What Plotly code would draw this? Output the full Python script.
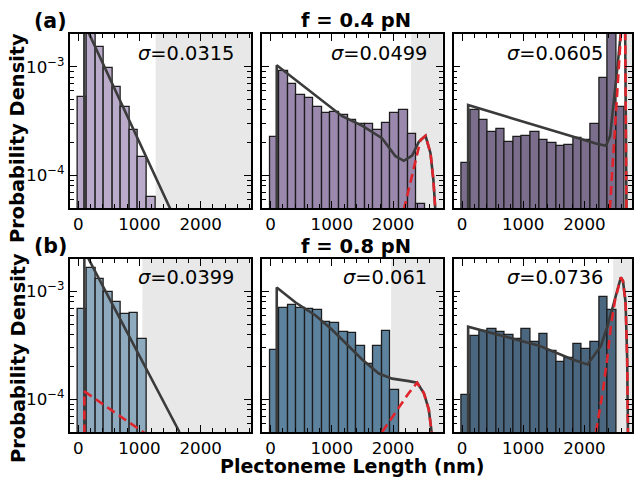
import math
import plotly.graph_objects as go

# ---------------- data ----------------
bin_centers = [70, 210, 350, 490, 630, 770, 910, 1050, 1190, 1330,
               1470, 1610, 1750, 1890, 2030, 2170, 2310, 2450, 2590]

dens_f04_s0315 = [5.3e-4, 2.4e-3, 1.53e-3, 9.7e-4, 6.5e-4, 4.3e-4, 2.6e-4, 1.48e-4, 6.3e-5]
dens_f04_s0499 = [2.26e-4, 9.1e-4, 6.9e-4, 5.5e-4, 5.1e-4, 4.3e-4, 3.76e-4, 3.84e-4, 3.58e-4,
                  3.22e-4, 2.96e-4, 2.96e-4, 2.64e-4, 3.06e-4, 3.76e-4, 4.03e-4, 2.39e-4, 5.4e-5]
dens_f04_s0605 = [1.31e-4, 3.98e-4, 3.22e-4, 2.48e-4, 2.66e-4, 2.03e-4, 2.23e-4, 2.29e-4, 2.48e-4,
                  2.10e-4, 1.99e-4, 1.87e-4, 1.9e-4, 2.2e-4, 2.12e-4, 2.96e-4, 7.9e-4, 2.6e-3, 4.25e-4]
dens_f08_s0399 = [6.86e-4, 1.64e-3, 1.30e-3, 1.0e-3, 8.0e-4, 6.25e-4, 6.38e-4, 3.66e-4]
dens_f08_s0610 = [2.85e-4, 7.0e-4, 7.46e-4, 7.1e-4, 6.85e-4, 6.71e-4, 5.2e-4, 5.15e-4, 4.25e-4,
                  4.12e-4, 3.15e-4, 2.11e-4, 3.15e-4, 4.31e-4, 1.23e-4]
dens_f08_s0736 = [1.09e-4, 3.87e-4, 4.31e-4, 4.46e-4, 4.25e-4, 3.96e-4, 3.61e-4, 4.46e-4, 3.43e-4,
                  4.07e-4, 2.79e-4, 2.23e-4, 2.42e-4, 3.29e-4, 2.93e-4, 3.44e-4, 8.99e-4, 6.8e-4]

# total fit (black) and end-loop component (red dashed)
fit_f04_s0315_x = [100, 100, 1505]
fit_f04_s0315_y = [1e-6, 2.5e-3, 4.9e-5]
end_f04_s0315_x = []
end_f04_s0315_y = []

fit_f04_s0499_x = [100, 100, 1170, 1500, 1820, 2040, 2176, 2312, 2421, 2531, 2612, 2660, 2700]
fit_f04_s0499_y = [1e-6, 1.03e-3, 3.5e-4, 2.85e-4, 2.2e-4, 1.5e-4, 1.36e-4, 1.52e-4,
                   2.03e-4, 2.31e-4, 1.6e-4, 9e-5, 4e-5]
end_f04_s0499_x = [2176, 2312, 2449, 2531, 2612, 2660, 2700]
end_f04_s0499_y = [4.8e-5, 1.04e-4, 2.11e-4, 2.31e-4, 1.6e-4, 9e-5, 4e-5]

fit_f04_s0605_x = [100, 100, 2187, 2351, 2420, 2480, 2540, 2596, 2630, 2666, 2687]
fit_f04_s0605_y = [1e-6, 4.43e-4, 1.96e-4, 1.87e-4, 2.3e-4, 4.5e-4, 1.0e-3,
                   2.1e-3, 4e-3, 2e-3, 4.5e-5]
end_f04_s0605_x = [2416, 2596, 2630, 2666, 2687]
end_f04_s0605_y = [4.9e-5, 2.0e-3, 4e-3, 2e-3, 4.5e-5]

fit_f08_s0399_x = [100, 100, 1654]
fit_f08_s0399_y = [1e-6, 2.38e-3, 5e-5]
end_f08_s0399_x = [100, 100, 1150]
end_f08_s0399_y = [1e-6, 1.19e-4, 4.6e-5]

fit_f08_s0610_x = [100, 100, 408, 735, 1000, 1496, 1768, 1986, 2258, 2394, 2503, 2584, 2640]
fit_f08_s0610_y = [1e-6, 1.09e-3, 7.9e-4, 6.0e-4, 4.45e-4, 2.35e-4, 1.74e-4, 1.56e-4, 1.48e-4,
                   1.43e-4, 1.15e-4, 8.1e-5, 4.5e-5]
end_f08_s0610_x = [1822, 2041, 2258, 2394, 2503, 2584, 2640]
end_f08_s0610_y = [5e-5, 7.5e-5, 1.15e-4, 1.43e-4, 1.15e-4, 8.1e-5, 4.5e-5]

fit_f08_s0736_x = [100, 100, 1262, 1806, 2051, 2269, 2378, 2460, 2503, 2596, 2630, 2672, 2698, 2712]
fit_f08_s0736_y = [1e-6, 4.73e-4, 3.15e-4, 2.35e-4, 2.11e-4, 3.13e-4, 4.8e-4, 7.2e-4,
                   8.5e-4, 1.35e-3, 1.25e-3, 8e-4, 2.5e-4, 4.5e-5]
end_f08_s0736_x = [2188, 2297, 2378, 2433, 2503, 2596, 2630, 2672, 2698, 2712]
end_f08_s0736_y = [5e-5, 1.15e-4, 2.52e-4, 4.8e-4, 8.5e-4, 1.35e-3, 1.25e-3, 8e-4, 2.5e-4, 4.5e-5]

sigma_labels = ["0.0315", "0.0499", "0.0605", "0.0399", "0.061", "0.0736"]
force_titles = ["f = 0.4 pN", "f = 0.8 pN"]
panel_tags = ["(a)", "(b)"]
shade_start = [1265, 2296, 2690, 1048, 1969, 2470]
x_tick_vals = [0, 1000, 2000]
y_tick_vals = [1e-4, 1e-3]
y_tick_text = ["10<sup>−4</sup>", "10<sup>−3</sup>"]
y_minor_vals = [5e-5, 6e-5, 7e-5, 8e-5, 9e-5, 2e-4, 3e-4, 4e-4, 5e-4, 6e-4, 7e-4, 8e-4, 9e-4, 2e-3]

# ---------------- styling / layout ----------------
W, H = 634, 477
FONT = "DejaVu Sans"
bar_colors = ["#b9abc9", "#9a88ad", "#7b6d8c", "#8eaabe", "#5d829d", "#4b677f"]
col_px = [(70, 252), (263, 444), (455, 634)]
row_px = [(34, 208), (259, 432)]
PX_PER_NM = 0.0614
X0 = -138

dens = [dens_f04_s0315, dens_f04_s0499, dens_f04_s0605,
        dens_f08_s0399, dens_f08_s0610, dens_f08_s0736]
fits = [(fit_f04_s0315_x, fit_f04_s0315_y), (fit_f04_s0499_x, fit_f04_s0499_y),
        (fit_f04_s0605_x, fit_f04_s0605_y), (fit_f08_s0399_x, fit_f08_s0399_y),
        (fit_f08_s0610_x, fit_f08_s0610_y), (fit_f08_s0736_x, fit_f08_s0736_y)]
ends = [(end_f04_s0315_x, end_f04_s0315_y), (end_f04_s0499_x, end_f04_s0499_y),
        (end_f04_s0605_x, end_f04_s0605_y), (end_f08_s0399_x, end_f08_s0399_y),
        (end_f08_s0610_x, end_f08_s0610_y), (end_f08_s0736_x, end_f08_s0736_y)]

fig = go.Figure()
shapes = []
annotations = []
layout_axes = {}

for i in range(6):
    row, col = divmod(i, 3)
    suffix = "" if i == 0 else str(i + 1)
    xa, ya = "x" + suffix, "y" + suffix
    n = len(dens[i])
    fig.add_trace(go.Bar(
        x=bin_centers[:n], y=dens[i], width=140,
        marker=dict(color=bar_colors[i], line=dict(color="#1c1c1c", width=1.3)),
        xaxis=xa, yaxis=ya, showlegend=False, hoverinfo="skip"))
    fx, fy = fits[i]
    fig.add_trace(go.Scatter(x=fx, y=fy, mode="lines",
                             line=dict(color="#3b3b3b", width=2.6),
                             xaxis=xa, yaxis=ya, showlegend=False, hoverinfo="skip"))
    ex, ey = ends[i]
    if ex:
        fig.add_trace(go.Scatter(x=ex, y=ey, mode="lines",
                                 line=dict(color="#e0242b", width=2.6, dash="9px,5px"),
                                 xaxis=xa, yaxis=ya, showlegend=False, hoverinfo="skip"))

    x_left, x_right = col_px[col]
    y_top, y_bot = row_px[row]
    xr = [X0, X0 + (x_right - x_left) / PX_PER_NM]
    layout_axes["xaxis" + suffix] = dict(
        domain=[x_left / W, x_right / W], range=xr, anchor=ya,
        tickmode="array", tickvals=x_tick_vals, ticks="inside", ticklen=7, tickwidth=1.3,
        tickcolor="black", showline=True, linewidth=1.8, linecolor="black", mirror="ticks",
        showgrid=False, zeroline=False,
        minor=dict(ticks="inside", ticklen=4, tickwidth=1, tickcolor="black", dtick=200, tick0=0,
                   showgrid=False),
        tickfont=dict(family=FONT, size=16.7, color="black"))
    layout_axes["yaxis" + suffix] = dict(
        domain=[1 - y_bot / H, 1 - y_top / H], type="log",
        range=[math.log10(5e-5), math.log10(2e-3)], anchor=xa,
        tickmode="array", tickvals=y_tick_vals, ticktext=y_tick_text,
        showticklabels=(col == 0), ticks="inside", ticklen=7, tickwidth=1.3, tickcolor="black",
        showline=True, linewidth=1.8, linecolor="black", mirror="ticks",
        showgrid=False, zeroline=False,
        minor=dict(ticks="inside", ticklen=4, tickwidth=1, tickcolor="black",
                   tickvals=y_minor_vals, showgrid=False),
        tickfont=dict(family=FONT, size=16.7, color="black"))

    shapes.append(dict(type="rect", xref=xa, yref=ya + " domain",
                       x0=shade_start[i], x1=4000, y0=0, y1=1,
                       fillcolor="#e8e8e8", line=dict(width=0), layer="below"))

    sigma_right = [237, 430, 607][col]
    sigma_y = [53, 277.5][row]
    annotations.append(dict(
        text="<i>σ</i>=" + sigma_labels[i], xref="paper", yref="paper",
        x=sigma_right / W, y=1 - sigma_y / H, xanchor="right", yanchor="middle",
        showarrow=False, font=dict(family=FONT, size=19.4, color="black")))

for row in range(2):
    ty = [21, 246][row]
    annotations.append(dict(text="<b>" + force_titles[row] + "</b>", xref="paper", yref="paper",
                            x=357 / W, y=1 - ty / H, xanchor="center", yanchor="middle",
                            showarrow=False, font=dict(family=FONT, size=19.5, color="black")))
    annotations.append(dict(text="<b>" + panel_tags[row] + "</b>", xref="paper", yref="paper",
                            x=32 / W, y=1 - ty / H, xanchor="left", yanchor="middle",
                            showarrow=False, font=dict(family=FONT, size=20.5, color="black")))
    ly = [138, 358][row]
    annotations.append(dict(text="<b>Probability Density</b>", xref="paper", yref="paper",
                            x=18 / W, y=1 - ly / H, xanchor="center", yanchor="middle",
                            textangle=-90, showarrow=False,
                            font=dict(family=FONT, size=19.4, color="black")))

annotations.append(dict(text="<b>Plectoneme Length (nm)</b>", xref="paper", yref="paper",
                        x=353 / W, y=1 - 465.5 / H, xanchor="center", yanchor="middle",
                        showarrow=False, font=dict(family=FONT, size=19.0, color="black")))

fig.update_layout(
    width=W, height=H, margin=dict(l=0, r=0, t=0, b=0, pad=0),
    paper_bgcolor="white", plot_bgcolor="white",
    font=dict(family=FONT, color="black"),
    bargap=0, barmode="overlay",
    shapes=shapes, annotations=annotations, showlegend=False,
    **layout_axes)

fig.write_html("out.html", config={"displayModeBar": False},
               post_script="document.body.style.margin='0';")
